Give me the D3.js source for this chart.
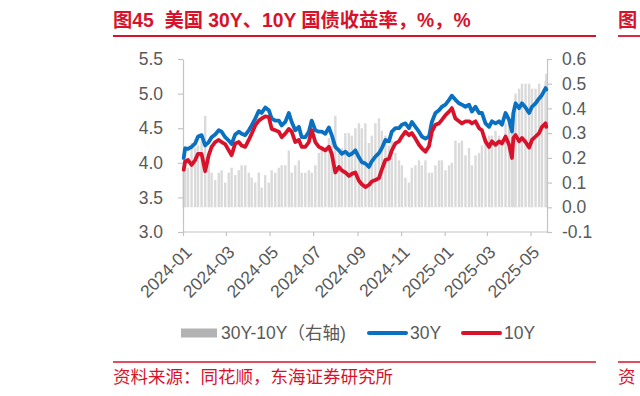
<!DOCTYPE html>
<html>
<head>
<meta charset="utf-8">
<script src="https://cdn.jsdelivr.net/npm/d3@7"></script>
<style>
  body { margin: 0; background: #fff; }
  svg text { font-family: "Liberation Sans", "Noto Sans CJK SC", sans-serif; }
</style>
</head>
<body>
<svg id="chart" width="640" height="396"></svg>
<script>
const dates = [
  '2024-01-02',
  '2024-01-04','2024-01-08','2024-01-13','2024-01-18','2024-01-22','2024-01-27','2024-02-01','2024-02-06','2024-02-10','2024-02-15',
  '2024-02-20','2024-02-24','2024-02-29','2024-03-05','2024-03-09','2024-03-14','2024-03-19','2024-03-23','2024-03-28','2024-04-02',
  '2024-04-06','2024-04-11','2024-04-16','2024-04-20','2024-04-25','2024-04-30','2024-05-04','2024-05-09','2024-05-14','2024-05-18',
  '2024-05-23','2024-05-28','2024-06-01','2024-06-06','2024-06-11','2024-06-15','2024-06-20','2024-06-25','2024-06-29','2024-07-04',
  '2024-07-09','2024-07-13','2024-07-18','2024-07-23','2024-07-27','2024-08-01','2024-08-06','2024-08-10','2024-08-15','2024-08-20',
  '2024-08-24','2024-08-29','2024-09-03','2024-09-07',
  '2024-09-12','2024-09-17','2024-09-21','2024-09-26','2024-10-01','2024-10-05','2024-10-10','2024-10-15','2024-10-19','2024-10-24',
  '2024-10-29','2024-11-02','2024-11-07','2024-11-12','2024-11-16','2024-11-21','2024-11-26','2024-11-30','2024-12-05','2024-12-10',
  '2024-12-14','2024-12-19','2024-12-24','2024-12-28','2025-01-02','2025-01-07','2025-01-11','2025-01-16','2025-01-21','2025-01-25',
  '2025-01-30','2025-02-04','2025-02-08','2025-02-13','2025-02-18','2025-02-22','2025-02-27','2025-03-04','2025-03-08','2025-03-13',
  '2025-03-18','2025-03-22','2025-03-27','2025-04-01','2025-04-05','2025-04-07','2025-04-10','2025-04-15','2025-04-19','2025-04-24',
  '2025-04-29','2025-05-03','2025-05-08','2025-05-13','2025-05-17','2025-05-22','2025-05-23'
];

// US 30Y treasury yield, %
const y30 = [
  4.07,
  4.21,4.20,4.23,4.28,4.38,4.40,4.25,4.30,4.37,4.41,
  4.47,4.45,4.37,4.32,4.27,4.41,4.45,4.42,4.40,4.47,
  4.54,4.64,4.75,4.72,4.80,4.76,4.64,4.61,4.61,4.54,
  4.59,4.72,4.59,4.47,4.52,4.37,4.37,4.45,4.61,4.47,
  4.45,4.45,4.42,4.51,4.40,4.23,4.18,4.13,4.16,4.11,
  4.13,4.18,4.08,4.01,
  3.99,3.94,4.02,4.09,4.14,4.21,4.33,4.31,4.45,4.50,
  4.50,4.55,4.57,4.50,4.59,4.52,4.45,4.38,4.35,4.38,
  4.59,4.72,4.76,4.81,4.84,4.91,4.97,4.91,4.86,4.84,
  4.81,4.84,4.74,4.81,4.72,4.72,4.57,4.52,4.60,4.57,
  4.60,4.55,4.72,4.62,4.45,4.72,4.86,4.79,4.86,4.80,
  4.72,4.81,4.86,4.93,4.98,5.08,5.06
];

// US 10Y treasury yield, %
const y10 = [
  3.90,
  4.02,4.04,3.97,4.04,4.13,4.13,3.88,4.11,4.23,4.30,
  4.33,4.30,4.27,4.18,4.11,4.28,4.30,4.25,4.23,4.33,
  4.42,4.54,4.61,4.64,4.67,4.66,4.49,4.47,4.45,4.37,
  4.42,4.49,4.45,4.30,4.33,4.23,4.23,4.30,4.47,4.30,
  4.23,4.21,4.18,4.23,4.13,3.86,3.94,3.89,3.86,3.81,
  3.84,3.86,3.74,3.69,
  3.65,3.68,3.73,3.75,3.78,3.90,4.04,4.06,4.18,4.28,
  4.31,4.38,4.45,4.40,4.43,4.35,4.26,4.21,4.16,4.24,
  4.45,4.55,4.57,4.62,4.69,4.74,4.79,4.64,4.60,4.57,
  4.60,4.60,4.57,4.60,4.50,4.47,4.31,4.23,4.31,4.26,
  4.31,4.28,4.38,4.26,4.07,4.36,4.40,4.31,4.36,4.30,
  4.22,4.33,4.38,4.43,4.52,4.57,4.52
];

const leftTicks = [3.0, 3.5, 4.0, 4.5, 5.0, 5.5];
const rightTicks = [-0.1, 0.0, 0.1, 0.2, 0.3, 0.4, 0.5, 0.6];
const monthTicks = ['2024-01','2024-03','2024-05','2024-07','2024-09','2024-11','2025-01','2025-03','2025-05'];
const seriesNames = ['30Y-10Y（右轴)', '30Y', '10Y'];

const titleText = '图45  美国 30Y、10Y 国债收益率，%，%';
const sourceText = '资料来源：同花顺，东海证券研究所';

const RED = '#d8122b';
const BLUE = '#0a70c2';
const AXIS = '#c4c4c4';
const LABEL = '#595959';
const FS = 17.5;

const svg = d3.select('#chart');
const parseDay = d3.timeParse('%Y-%m-%d');
const parseMonth = d3.timeParse('%Y-%m');

const points = dates.map((d, i) => ({
  date: parseDay(d),
  v30: y30[i],
  v10: y10[i],
  spread: y30[i] - y10[i]
}));

// Plot area
const plot = { left: 183, right: 547, top: 59, bottom: 232 };

const x = d3.scaleTime()
  .domain([parseDay('2024-01-01'), parseDay('2025-05-24')])
  .range([plot.left, plot.right]);
const yL = d3.scaleLinear().domain([3.0, 5.5]).range([plot.bottom, plot.top]);
const yR = d3.scaleLinear().domain([-0.1, 0.6]).range([plot.bottom, plot.top]);

// Title + rules
svg.append('text')
  .attr('x', 113).attr('y', 27)
  .attr('fill', RED)
  .attr('font-size', 19.3)
  .attr('font-weight', 'bold')
  .style('white-space', 'pre')
  .text(titleText);
svg.append('line').attr('x1', 113).attr('x2', 596).attr('y1', 36).attr('y2', 36)
  .attr('stroke', RED).attr('stroke-width', 1.8);

// neighbouring column, cut off at the edge
svg.append('text').attr('x', 618).attr('y', 27).attr('fill', RED)
  .attr('font-size', 19.3).attr('font-weight', 'bold').text('图');
svg.append('line').attr('x1', 618).attr('x2', 640).attr('y1', 36).attr('y2', 36)
  .attr('stroke', RED).attr('stroke-width', 1.8);

// Spread bars (right axis)
const barW = 2.4;
svg.append('g')
  .selectAll('rect')
  .data(points)
  .join('rect')
  .attr('x', d => x(d.date) - barW / 2)
  .attr('y', d => Math.min(yR(d.spread), yR(0)))
  .attr('width', barW)
  .attr('height', d => Math.abs(yR(0) - yR(d.spread)))
  .attr('fill', '#dadada');

// Axes
const leftAxis = svg.append('g')
  .attr('transform', `translate(${plot.left},0)`)
  .call(d3.axisLeft(yL).tickValues(leftTicks).tickFormat(d => d.toFixed(1))
    .tickSize(5).tickSizeOuter(0).tickPadding(15));

const rightAxis = svg.append('g')
  .attr('transform', `translate(${plot.right},0)`)
  .call(d3.axisRight(yR).tickValues(rightTicks).tickFormat(d => d.toFixed(1))
    .tickSize(5).tickSizeOuter(0).tickPadding(10));

const bottomAxis = svg.append('g')
  .attr('transform', `translate(0,${plot.bottom})`)
  .call(d3.axisBottom(x).tickValues(monthTicks.map(parseMonth))
    .tickFormat(d3.timeFormat('%Y-%m')).tickSize(4).tickSizeOuter(0));

bottomAxis.select('.domain').attr('d', `M${plot.left},0H${plot.right}`);

bottomAxis.selectAll('text')
  .attr('x', 0).attr('y', 0).attr('dy', '0.35em')
  .attr('text-anchor', 'end')
  .attr('transform', 'translate(5,17) rotate(-45)');

[leftAxis, rightAxis, bottomAxis].forEach(g => {
  g.selectAll('.domain, line').attr('stroke', AXIS).attr('stroke-width', 1.2);
  g.selectAll('text').attr('fill', LABEL).attr('font-size', FS)
    .attr('font-family', '"Liberation Sans", Arial, sans-serif');
});

// Lines
const line30 = d3.line().x(d => x(d.date)).y(d => yL(d.v30));
const line10 = d3.line().x(d => x(d.date)).y(d => yL(d.v10));

svg.append('path').datum(points)
  .attr('d', line30)
  .attr('fill', 'none').attr('stroke', BLUE).attr('stroke-width', 3.8)
  .attr('stroke-linejoin', 'round').attr('stroke-linecap', 'round');

svg.append('path').datum(points)
  .attr('d', line10)
  .attr('fill', 'none').attr('stroke', RED).attr('stroke-width', 3.8)
  .attr('stroke-linejoin', 'round').attr('stroke-linecap', 'round');

// Legend
const legend = svg.append('g').attr('transform', 'translate(0,333)');
legend.append('rect').attr('x', 181).attr('y', -4.5).attr('width', 36).attr('height', 9).attr('fill', '#b3b3b3');
legend.append('line').attr('x1', 369).attr('x2', 406).attr('y1', 0).attr('y2', 0)
  .attr('stroke', BLUE).attr('stroke-width', 4).attr('stroke-linecap', 'round');
legend.append('line').attr('x1', 463).attr('x2', 500).attr('y1', 0).attr('y2', 0)
  .attr('stroke', RED).attr('stroke-width', 4).attr('stroke-linecap', 'round');
legend.selectAll('text.lbl')
  .data(seriesNames)
  .join('text')
  .attr('class', 'lbl')
  .attr('x', (d, i) => [221, 410, 504][i])
  .attr('y', 0)
  .attr('dy', '0.36em')
  .attr('fill', LABEL)
  .attr('font-size', FS)
  .text(d => d);

// Source
svg.append('line').attr('x1', 113).attr('x2', 596).attr('y1', 362).attr('y2', 362)
  .attr('stroke', RED).attr('stroke-width', 1.5);
svg.append('line').attr('x1', 618).attr('x2', 640).attr('y1', 362).attr('y2', 362)
  .attr('stroke', RED).attr('stroke-width', 1.5);
svg.append('text').attr('x', 113).attr('y', 383).attr('fill', RED)
  .attr('font-size', 17.5).text(sourceText);
svg.append('text').attr('x', 618).attr('y', 383).attr('fill', RED)
  .attr('font-size', 17.5).text('资');
</script>
</body>
</html>
